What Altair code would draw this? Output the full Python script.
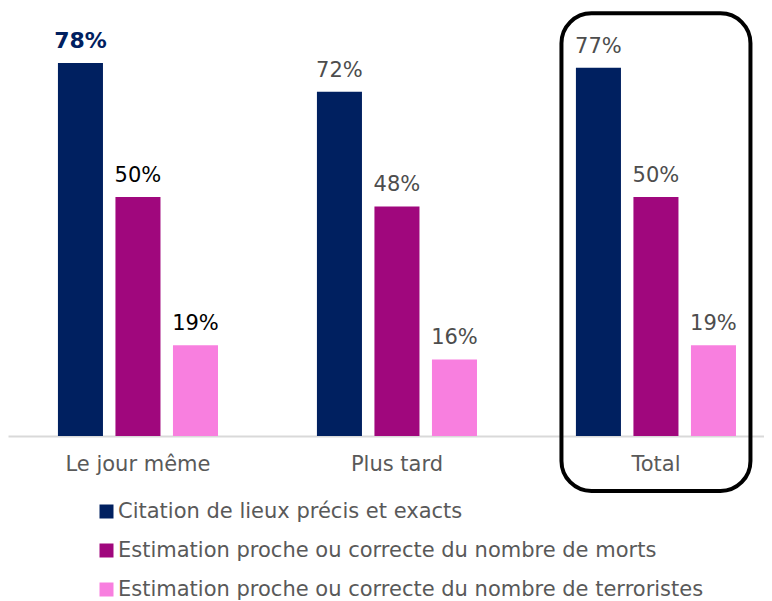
import altair as alt
import pandas as pd

groups = ["Le jour même", "Plus tard", "Total"]
series = [
    "Citation de lieux précis et exacts",
    "Estimation proche ou correcte du nombre de morts",
    "Estimation proche ou correcte du nombre de terroristes",
]
values_lieux = [78, 72, 77]
values_morts = [50, 48, 50]
values_terro = [19, 16, 19]
bar_colors = ["#002060", "#A0077D", "#F87FDF"]
group_label_colors = ["#000000", "#4d4d4d", "#4d4d4d"]
highlight = ("Le jour même", "Citation de lieux précis et exacts")
highlight_group = "Total"
box_top = 88.4
box_bottom = -11.5

FONT = "DejaVu Sans"

rows = []
for s, vals in zip(series, [values_lieux, values_morts, values_terro]):
    for gi, (g, v) in enumerate(zip(groups, vals)):
        rows.append({
            "group": g, "series": s, "value": v, "label": f"{v}%",
            "lcolor": group_label_colors[gi],
            "bold": 1 if (g, s) == highlight else 0,
        })
df = pd.DataFrame(rows)

xscale = alt.Scale(domain=groups, paddingInner=0.382, paddingOuter=0.1505, align=0.6406)
offscale = alt.Scale(domain=series, paddingInner=0.217, paddingOuter=0)
yscale = alt.Scale(domain=[0, 89.5])

xenc = alt.X("group:N", sort=groups, scale=xscale,
             axis=alt.Axis(title=None, labelAngle=0, ticks=False, domainColor="#d9d9d9",
                           domainWidth=2, labelFontSize=21, labelFont=FONT,
                           labelColor="#595959", labelPadding=17, grid=False))
offenc = alt.XOffset("series:N", sort=series, scale=offscale)

base = alt.Chart(df)

bars = base.mark_bar().encode(
    x=xenc,
    xOffset=offenc,
    y=alt.Y("value:Q", scale=yscale, axis=None),
    color=alt.Color("series:N", sort=series,
                    scale=alt.Scale(domain=series, range=bar_colors),
                    legend=alt.Legend(title=None, orient="none", legendX=88, legendY=493,
                                      direction="vertical", symbolType="square",
                                      symbolSize=196, symbolStrokeWidth=0,
                                      labelFontSize=21, labelFont=FONT,
                                      labelColor="#595959", rowPadding=17,
                                      labelOffset=1, labelLimit=0)),
)

labels = base.transform_filter("datum.bold == 0").mark_text(
    baseline="alphabetic", dy=-15, fontSize=21, font=FONT
).encode(
    x=xenc, xOffset=offenc,
    y=alt.Y("value:Q", scale=yscale, axis=None),
    text="label:N",
    color=alt.Color("lcolor:N", scale=None),
)

bold_labels = base.transform_filter("datum.bold == 1").mark_text(
    baseline="alphabetic", dy=-15, fontSize=22, font=FONT, fontWeight="bold"
).encode(
    x=xenc, xOffset=offenc,
    y=alt.Y("value:Q", scale=yscale, axis=None),
    text="label:N",
    color=alt.value("#002060"),
)

box_df = pd.DataFrame({"group": [highlight_group], "top": [box_top], "bottom": [box_bottom]})
box = alt.Chart(box_df).mark_bar(
    width=189, cornerRadius=30, fillOpacity=0, fill="white", stroke="black", strokeWidth=4
).encode(
    x=alt.X("group:N", sort=groups, scale=xscale),
    y=alt.Y("top:Q", scale=yscale),
    y2="bottom:Q",
)

chart = alt.layer(bars, labels, bold_labels, box).properties(
    width=756, height=428, padding=0
).configure_view(stroke=None)

chart.save("out.html", embed_options={"renderer": "svg", "actions": False})
